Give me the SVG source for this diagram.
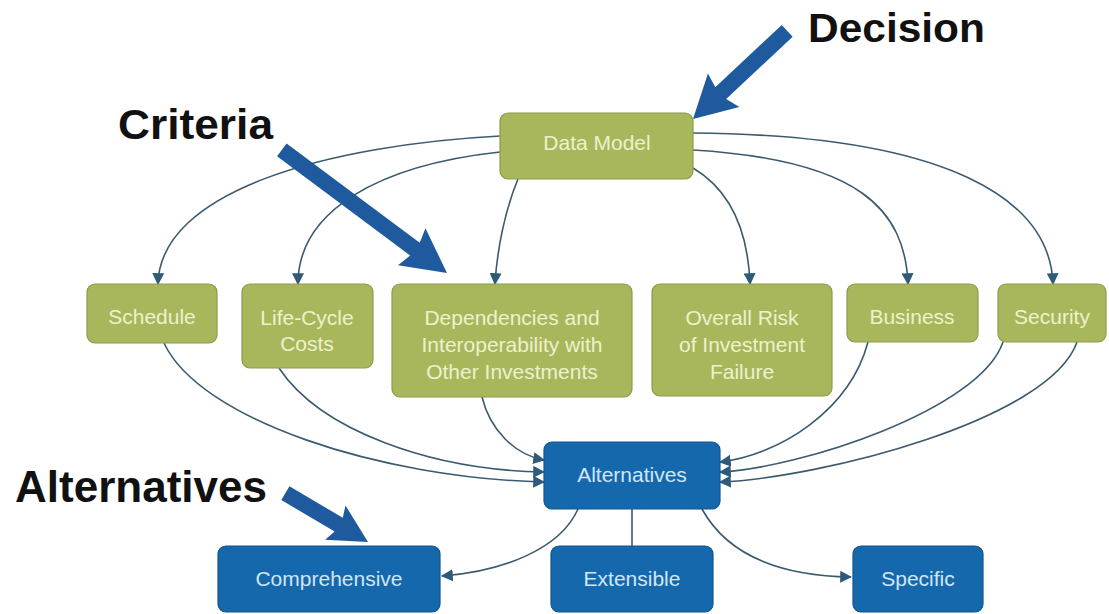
<svg xmlns="http://www.w3.org/2000/svg" width="1109" height="614" viewBox="0 0 1109 614">
<style>
.g{fill:#a9b75c;stroke:#8e9a4c;stroke-width:1.2}
.b{fill:#1668ad;stroke:#11558f;stroke-width:1.2}
.gt{font-family:"Liberation Sans",Arial,sans-serif;font-size:21px;fill:#eef1cc;text-anchor:middle}
.bt{font-family:"Liberation Sans",Arial,sans-serif;font-size:21px;fill:#cfe7f7;text-anchor:middle}
.c{fill:none;stroke:#3b5a6e;stroke-width:1.6}
.lbl{font-family:"Liberation Sans",Arial,sans-serif;font-weight:bold;fill:#111}
.big{fill:#1f5a9e}
</style>
<defs>
<marker id="ah" markerUnits="userSpaceOnUse" markerWidth="12" markerHeight="12" viewBox="0 0 10 10" refX="9" refY="5" orient="auto">
<path d="M0,0 L10,5 L0,10 Z" fill="#2f5a7a"/>
</marker>
</defs>
<g id="connectors">
<path class="c" marker-end="url(#ah)" d="M500,136 C330,145 160,190 158,284"/>
<path class="c" marker-end="url(#ah)" d="M500,152 C380,165 298,210 298,284"/>
<path class="c" marker-end="url(#ah)" d="M518,179 C505,210 497,250 495,284"/>
<path class="c" marker-end="url(#ah)" d="M693,168 C730,190 748,230 750,284"/>
<path class="c" marker-end="url(#ah)" d="M693,150 C860,160 905,210 908,284"/>
<path class="c" marker-end="url(#ah)" d="M693,133 C950,135 1050,200 1053,284"/>
<path class="c" marker-end="url(#ah)" d="M164,343 C200,420 380,478 544,482"/>
<path class="c" marker-end="url(#ah)" d="M279,368 C320,430 430,470 544,472"/>
<path class="c" marker-end="url(#ah)" d="M482,397 C490,430 515,455 544,460"/>
<path class="c" marker-end="url(#ah)" d="M868,342 C850,410 780,455 720,462"/>
<path class="c" marker-end="url(#ah)" d="M1003,342 C980,410 800,468 720,472"/>
<path class="c" marker-end="url(#ah)" d="M1077,342 C1050,420 820,478 720,482"/>
<path class="c" marker-end="url(#ah)" d="M578,509 C560,550 500,572 442,576"/>
<path class="c" d="M632,509 L632,546"/>
<path class="c" marker-end="url(#ah)" d="M702,509 C730,560 790,576 851,577"/>
</g>
<g id="node-data-model">
<rect class="g" x="500" y="113" width="193" height="66" rx="8"/>
<text class="gt" x="597" y="150">Data Model</text>
</g>
<g id="node-schedule">
<rect class="g" x="87" y="284" width="130" height="59" rx="8"/>
<text class="gt" x="152" y="324">Schedule</text>
</g>
<g id="node-lifecycle">
<rect class="g" x="242" y="284" width="131" height="84" rx="8"/>
<text class="gt" x="307" y="325">Life-Cycle</text>
<text class="gt" x="307" y="351">Costs</text>
</g>
<g id="node-dependencies">
<rect class="g" x="392" y="284" width="240" height="113" rx="8"/>
<text class="gt" x="512" y="325">Dependencies and</text>
<text class="gt" x="512" y="352">Interoperability with</text>
<text class="gt" x="512" y="379">Other Investments</text>
</g>
<g id="node-risk">
<rect class="g" x="652" y="284" width="180" height="112" rx="8"/>
<text class="gt" x="742" y="325">Overall Risk</text>
<text class="gt" x="742" y="352">of Investment</text>
<text class="gt" x="742" y="379">Failure</text>
</g>
<g id="node-business">
<rect class="g" x="847" y="284" width="131" height="58" rx="8"/>
<text class="gt" x="912" y="324">Business</text>
</g>
<g id="node-security">
<rect class="g" x="998" y="284" width="108" height="58" rx="8"/>
<text class="gt" x="1052" y="324">Security</text>
</g>
<g id="node-alternatives">
<rect class="b" x="544" y="442" width="176" height="67" rx="8"/>
<text class="bt" x="632" y="482">Alternatives</text>
</g>
<g id="node-comprehensive">
<rect class="b" x="218" y="546" width="222" height="66" rx="8"/>
<text class="bt" x="329" y="586">Comprehensive</text>
</g>
<g id="node-extensible">
<rect class="b" x="551" y="546" width="162" height="66" rx="8"/>
<text class="bt" x="632" y="586">Extensible</text>
</g>
<g id="node-specific">
<rect class="b" x="853" y="546" width="130" height="66" rx="8"/>
<text class="bt" x="918" y="586">Specific</text>
</g>
<g id="callouts">
<text class="lbl" x="808" y="42" font-size="40" textLength="177" lengthAdjust="spacingAndGlyphs">Decision</text>
<text class="lbl" x="118" y="139" font-size="42" textLength="155" lengthAdjust="spacingAndGlyphs">Criteria</text>
<text class="lbl" x="15" y="502" font-size="45" textLength="252" lengthAdjust="spacingAndGlyphs">Alternatives</text>
<polygon class="big" transform="translate(693,119) rotate(136.9)" points="0,0 -42,-23 -38,-8 -129,-8 -129,8 -38,8 -42,23"/>
<polygon class="big" transform="translate(447,273) rotate(36.7)" points="0,0 -44,-23 -40,-8 -206,-8 -206,8 -40,8 -44,23"/>
<polygon class="big" transform="translate(368,542) rotate(30.6)" points="0,0 -38,-20 -34,-8 -96,-8 -96,8 -34,8 -38,20"/>
</g>
</svg>
